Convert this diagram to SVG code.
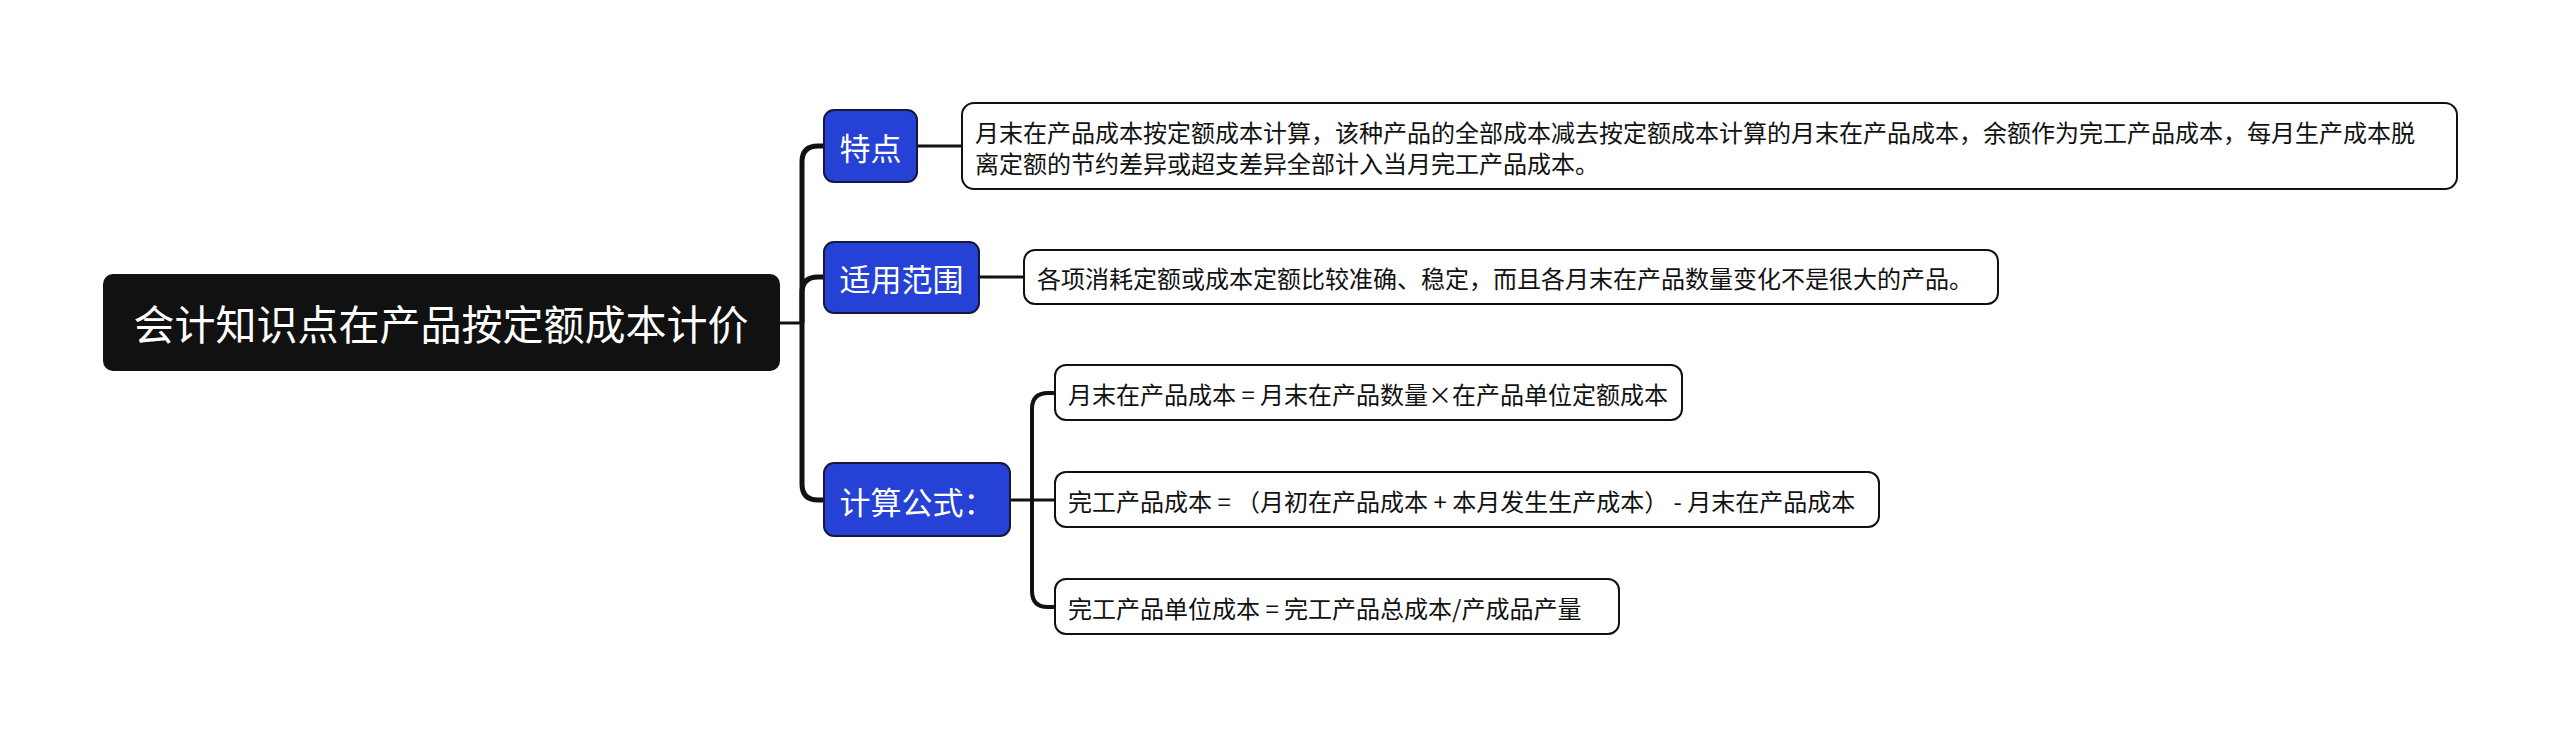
<svg xmlns="http://www.w3.org/2000/svg" width="2560" height="737" viewBox="0 0 2560 737">
<style>
  text { font-family: "Noto Sans CJK SC", "Noto Sans", sans-serif; dominant-baseline: central; }
  .root-box { fill: #111111; }
  .root-text { fill: #ffffff; font-size: 41px; text-anchor: middle; }
  .topic-box { fill: #2541d6; stroke: #15183a; stroke-width: 2; }
  .topic-text { fill: #ffffff; font-size: 31px; text-anchor: middle; }
  .leaf-box { fill: #ffffff; stroke: #111111; stroke-width: 2; }
  .leaf-text { fill: #111111; font-size: 24px; }
  .trunk { fill: none; stroke: #111111; stroke-width: 5; stroke-linecap: butt; }
  .link { fill: none; stroke: #111111; stroke-width: 3; }
</style>
<rect width="2560" height="737" fill="#ffffff"/>
<g id="connectors">
  <path class="link" d="M780,323 H804"/>
  <path class="trunk" d="M802,323 V162 Q802,146 818,146 H826"/>
  <path class="trunk" d="M802,323 V293 Q802,277 818,277 H826"/>
  <path class="trunk" d="M802,323 V484 Q802,500 818,500 H826"/>
  <path class="link" d="M917,146 H962"/>
  <path class="link" d="M979,277 H1024"/>
  <path class="link" d="M1010,500 H1056"/>
  <path class="trunk" style="stroke-width:4" d="M1032,500 V409 Q1032,393 1048,393 H1056"/>
  <path class="trunk" style="stroke-width:4" d="M1032,500 V591 Q1032,607 1048,607 H1056"/>
</g>
<g id="root">
  <rect class="root-box" x="103" y="274" width="677" height="97" rx="10"/>
  <text class="root-text" x="441" y="322">会计知识点在产品按定额成本计价</text>
</g>
<g id="topic-tedian">
  <rect class="topic-box" x="824" y="110" width="93" height="72" rx="10"/>
  <text class="topic-text" x="870.5" y="146">特点</text>
</g>
<g id="topic-fanwei">
  <rect class="topic-box" x="824" y="242" width="155" height="71" rx="10"/>
  <text class="topic-text" x="901.5" y="277">适用范围</text>
</g>
<g id="topic-gongshi">
  <rect class="topic-box" x="824" y="463" width="186" height="73" rx="10"/>
  <text class="topic-text" x="917" y="500">计算公式：</text>
</g>
<g id="leaf-tedian">
  <rect class="leaf-box" x="962" y="103" width="1495" height="86" rx="12"/>
  <text class="leaf-text" x="975" y="131">月末在产品成本按定额成本计算，该种产品的全部成本减去按定额成本计算的月末在产品成本，余额作为完工产品成本，每月生产成本脱</text>
  <text class="leaf-text" x="975" y="162">离定额的节约差异或超支差异全部计入当月完工产品成本。</text>
</g>
<g id="leaf-fanwei">
  <rect class="leaf-box" x="1024" y="250" width="974" height="54" rx="11"/>
  <text class="leaf-text" x="1037" y="277">各项消耗定额或成本定额比较准确、稳定，而且各月末在产品数量变化不是很大的产品。</text>
</g>
<g id="leaf-formula1">
  <rect class="leaf-box" x="1055" y="365" width="627" height="55" rx="11"/>
  <text class="leaf-text" x="1068" y="393">月末在产品成本 = 月末在产品数量×在产品单位定额成本</text>
</g>
<g id="leaf-formula2">
  <rect class="leaf-box" x="1055" y="472" width="824" height="55" rx="11"/>
  <text class="leaf-text" x="1068" y="500">完工产品成本 = （月初在产品成本 + 本月发生生产成本） - 月末在产品成本</text>
</g>
<g id="leaf-formula3">
  <rect class="leaf-box" x="1055" y="579" width="564" height="55" rx="11"/>
  <text class="leaf-text" x="1068" y="607">完工产品单位成本 = 完工产品总成本/产成品产量 </text>
</g>
</svg>
